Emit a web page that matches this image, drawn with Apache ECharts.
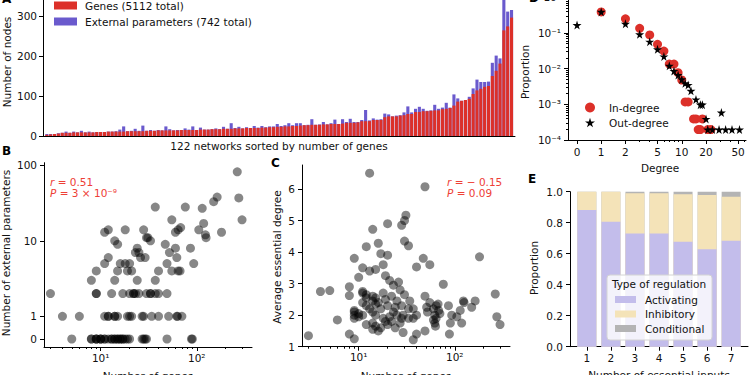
<!DOCTYPE html>
<html>
<head>
<meta charset="utf-8">
<title>Regulatory networks</title>
<script src="https://cdn.jsdelivr.net/npm/echarts@6.0.0/dist/echarts.min.js"></script>
<style>
  html, body { margin: 0; padding: 0; background: #fff; }
  #chart { width: 750px; height: 375px; }
</style>
</head>
<body>
<div id="chart"></div>
<script>
// A, B, C: one entry per network, sorted by number of genes
const genes = [3, 4, 5, 6, 8, 8, 8, 9, 9, 9, 9, 9, 9, 10, 10, 10, 11, 11, 11, 11, 11, 12, 12, 12, 12, 12,
  13, 13, 13, 14, 14, 14, 14, 14, 14, 15, 15, 15, 15, 15, 16, 16, 16, 17, 17, 17, 18, 18, 18, 19, 19, 19,
  20, 20, 20, 20, 21, 21, 22, 22, 23, 23, 24, 24, 25, 25, 26, 27, 27, 28, 28, 28, 29, 29, 30, 30, 30, 31,
  33, 33, 33, 34, 37, 37, 37, 40, 40, 40, 47, 49, 49, 49, 51, 52, 55, 55, 60, 60, 62, 62, 63, 64, 64, 67,
  68, 70, 76, 86, 88, 90, 93, 105, 114, 118, 123, 125, 150, 163, 181, 264, 274, 296];
const extParams = [2, 1, 0, 1, 0, 3, 0, 2, 0, 4, 0, 2, 0, 0, 0, 0, 0, 0, 1, 5, 13, 0, 1, 6, 1, 14,
  0, 2, 0, 1, 0, 10, 3, 0, 1, 0, 4, 1, 9, 0, 5, 0, 0, 0, 2, 0, 5, 0, 14, 1, 4, 0,
  2, 0, 5, 1, 4, 1, 2, 2, 7, 2, 3, 8, 2, 7, 6, 0, 1, 14, 0, 1, 6, 0, 2, 11, 0, 11,
  2, 10, 2, 1, 3, 28, 2, 4, 1, 2, 9, 5, 0, 2, 1, 7, 19, 4, 8, 13, 6, 1, 1, 14, 4, 4,
  15, 1, 28, 8, 0, 0, 5, 14, 27, 17, 12, 11, 33, 38, 13, 82, 37, 19];
const avgDegree = [1.35, 2.75, 2.78, 1.85, 2.9, 1.4, 2.62, 3.8, 1.25, 2.1, 2.0, 1.9, 2.15, 3.2, 2.05, 1.95,
  3.5, 2.75, 2.7, 2.4, 2.0, 4.17, 2.55, 2.3, 2.65, 1.7, 6.5, 3.4, 2.2, 4.72, 1.75, 2.45, 2.6, 1.55, 2.1,
  3.45, 2.35, 1.65, 2.55, 2.0, 4.28, 2.4, 1.5, 3.95, 2.2, 1.6, 3.6, 1.9, 2.7, 3.25, 1.8, 2.5,
  4.9, 3.9, 2.3, 1.7, 3.1, 1.95, 2.6, 1.8, 2.95, 2.1, 2.25, 1.6, 2.0, 2.45, 3.05, 2.8, 1.75, 4.85, 2.3, 1.9,
  2.0, 1.45, 5.0, 4.35, 2.65, 5.17, 4.2, 2.2, 1.9, 2.45, 1.22, 1.9, 2.2, 3.53, 1.4, 2.0, 3.8, 6.07, 2.6, 1.5,
  2.25, 2.1, 2.4, 3.6, 1.85, 2.2, 1.75, 2.0, 1.65, 1.9, 2.3, 2.35, 2.15, 2.05, 2.98, 2.3, 1.4, 1.75, 2.0,
  1.95, 2.15, 1.75, 2.45, 2.4, 2.25, 2.45, 3.85, 2.67, 1.95, 1.7];

// D: degree distributions
const inDegree = [1, 2, 3, 4, 5, 6, 7, 8, 9, 10, 11, 12, 14, 15, 16, 17, 18, 21, 23];
const inProportion = [0.39, 0.25, 0.135, 0.088, 0.048, 0.031, 0.0134, 0.0134, 0.0077, 0.0048, 0.00117, 0.00117,
  0.00039, 0.00039, 0.000196, 0.000196, 0.00039, 0.000196, 0.000196];
const outDegree = [0, 1, 2, 3, 4, 5, 6, 7, 8, 9, 10, 11, 12, 13, 15, 17, 18, 20, 21, 24, 29, 31, 35, 42, 52];
const outProportion = [0.167, 0.39, 0.18, 0.092, 0.057, 0.035, 0.022, 0.012, 0.0086, 0.0066, 0.005, 0.0039, 0.0035,
  0.0024, 0.00137, 0.00098, 0.00098, 0.00039, 0.000196, 0.000196, 0.000196, 0.00059, 0.000196, 0.000196, 0.000196];

// E: type of regulation by number of essential inputs
const essentialInputs = [1, 2, 3, 4, 5, 6, 7];
const activating = [0.882, 0.806, 0.731, 0.731, 0.677, 0.628, 0.684];
const inhibitory = [0.118, 0.194, 0.259, 0.259, 0.306, 0.351, 0.284];
const conditional = [0, 0, 0.01, 0.01, 0.017, 0.021, 0.032];

// tick values
const nodeTicks = [0, 100, 200, 300];
const extTicks = [0, 1, 10, 100];
const geneTicks = [10, 100];
const degreeTicks = [0, 1, 2, 5, 10, 20, 50];
const degreeMinor = [3, 4, 6, 7, 8, 9, 30, 40, 60];
const propTicks = [1e-4, 1e-3, 1e-2, 1e-1, 1];

const FONT = 'DejaVu Sans';
const RED = '#dc3029';
const BLUE = '#6a5acd';
const NOTE = '#ee4036';

// symmetric log (linear below 1)
const symlog = v => v < 1 ? v * 0.3 : 0.3 + Math.log10(v);
const sup = s => String(s).replace(/[-0-9]/g, c => ({ '-': '⁻', '0': '⁰', '1': '¹', '2': '²', '3': '³', '4': '⁴', '5': '⁵', '6': '⁶', '7': '⁷', '8': '⁸', '9': '⁹' })[c]);
const pow10 = v => '10' + sup(Math.round(v));
const findTick = (list, v) => {
  const t = list.find(d => Math.abs(symlog(d) - v) < 1e-6);
  return t === undefined ? '' : String(t);
};

const logMinor = (lo, hi, from, to) => {
  const out = [];
  for (let n = from; n <= to; n++) {
    for (let k = 2; k <= 9; k++) {
      const v = n + Math.log10(k);
      if (v > lo && v < hi) out.push(v);
    }
  }
  return out;
};

const line = { show: true, onZero: false, lineStyle: { color: '#000', width: 1 } };
const noLine = { show: false, onZero: false };
const tk = (vals, len) => ({ show: true, inside: false, length: len, customValues: vals, lineStyle: { color: '#000', width: 1 } });
const lbl = (vals, fmt, margin) => ({ show: true, customValues: vals, formatter: fmt, margin: margin, color: '#111', fontSize: 10.5, fontFamily: FONT });
const off = { show: false };

const geneRange = [0.41, 2.575];
const geneMinor = logMinor(geneRange[0], geneRange[1], 0, 2);

// stacked tops, drawn back to front
const inhibTop = activating.map((a, i) => a + inhibitory[i]);
const condTop = inhibTop.map((t, i) => t + conditional[i]);
const nodeTotal = genes.map((g, i) => g + extParams[i]);

const gB = { left: 44, top: 162.7, width: 208, height: 184.3, outerBoundsMode: 'none' };
const gC = { left: 302, top: 165, width: 208, height: 181.7, outerBoundsMode: 'none' };
const gD = { left: 568, top: -2.7, width: 178, height: 142.7, outerBoundsMode: 'none' };

const chart = echarts.init(document.getElementById('chart'), null, { renderer: 'svg' });

const option = {
  animation: false,
  backgroundColor: '#fff',
  textStyle: { fontFamily: FONT },
  grid: [
    { left: 43, top: 0, width: 472, height: 136, outerBoundsMode: 'none' },
    gB, gC, gD,
    { left: 570, top: 191.7, width: 178, height: 155, outerBoundsMode: 'none' },
    // copies that only carry minor ticks
    Object.assign({}, gB), Object.assign({}, gC), Object.assign({}, gD)
  ],
  xAxis: [
    { gridIndex: 0, type: 'value', min: -1, max: 121.9, axisLine: line, axisTick: off, axisLabel: off, splitLine: off },
    { gridIndex: 1, type: 'value', min: geneRange[0], max: geneRange[1], axisLine: line,
      axisTick: tk(geneTicks.map(Math.log10), 4), axisLabel: lbl(geneTicks.map(Math.log10), pow10, 5), splitLine: off },
    { gridIndex: 5, type: 'value', position: 'bottom', min: geneRange[0], max: geneRange[1], axisLine: noLine,
      axisTick: tk(geneMinor, 2), axisLabel: off, splitLine: off },
    { gridIndex: 2, type: 'value', min: geneRange[0], max: geneRange[1], axisLine: line,
      axisTick: tk(geneTicks.map(Math.log10), 4), axisLabel: lbl(geneTicks.map(Math.log10), pow10, 5), splitLine: off },
    { gridIndex: 6, type: 'value', position: 'bottom', min: geneRange[0], max: geneRange[1], axisLine: noLine,
      axisTick: tk(geneMinor, 2), axisLabel: off, splitLine: off },
    { gridIndex: 3, type: 'value', min: -0.112, max: 2.097, axisLine: line,
      axisTick: tk(degreeTicks.map(symlog), 4), axisLabel: lbl(degreeTicks.map(symlog), v => findTick(degreeTicks, v), 6), splitLine: off },
    { gridIndex: 7, type: 'value', position: 'bottom', min: -0.112, max: 2.097, axisLine: noLine,
      axisTick: tk(degreeMinor.map(symlog), 2), axisLabel: off, splitLine: off },
    { gridIndex: 4, type: 'value', min: 0.3, max: 7.7, axisLine: line,
      axisTick: tk(essentialInputs, 4), axisLabel: lbl(essentialInputs, v => String(v), 6), splitLine: off }
  ],
  yAxis: [
    { gridIndex: 0, type: 'value', min: 0, max: 340, axisLine: line,
      axisTick: tk(nodeTicks, 4), axisLabel: lbl(nodeTicks, v => String(v), 6), splitLine: off },
    { gridIndex: 1, type: 'value', min: -0.106, max: 2.335, axisLine: line,
      axisTick: tk(extTicks.map(symlog), 4), axisLabel: lbl(extTicks.map(symlog), v => findTick(extTicks, v), 7), splitLine: off },
    { gridIndex: 2, type: 'value', min: 1, max: 6.76, interval: 1, axisLine: line,
      axisTick: { show: true, length: 4, lineStyle: { color: '#000' } },
      axisLabel: { margin: 7, color: '#111', fontSize: 10.5, fontFamily: FONT, showMaxLabel: false, formatter: v => (v % 1 === 0 ? String(v) : '') }, splitLine: off },
    { gridIndex: 3, type: 'value', min: -4, max: 0, axisLine: line,
      axisTick: tk(propTicks.map(Math.log10), 4), axisLabel: lbl(propTicks.map(Math.log10), pow10, 7), splitLine: off },
    { gridIndex: 7, type: 'value', position: 'left', min: -4, max: 0, axisLine: noLine,
      axisTick: tk(logMinor(-4, 0, -4, -1), 2), axisLabel: off, splitLine: off },
    { gridIndex: 4, type: 'value', min: 0, max: 1, interval: 0.2, axisLine: line,
      axisTick: { show: true, length: 4, lineStyle: { color: '#000' } },
      axisLabel: { margin: 7, color: '#111', fontSize: 10.5, fontFamily: FONT, formatter: v => v.toFixed(1) }, splitLine: off },
    { gridIndex: 5, type: 'value', min: 0, max: 1, show: false },
    { gridIndex: 6, type: 'value', min: 0, max: 1, show: false }
  ],
  legend: [
    { data: ['Genes (5112 total)', 'External parameters (742 total)'], orient: 'vertical', left: 54, top: 0, padding: 0,
      itemWidth: 23, itemHeight: 8, itemGap: 5, icon: 'rect', selectedMode: false,
      textStyle: { fontSize: 10.5, fontFamily: FONT, color: '#111', padding: [0, 0, 0, 3] } },
    { data: ['In-degree', 'Out-degree'], orient: 'vertical', left: 585, top: 102, padding: 0,
      itemWidth: 10, itemHeight: 10, itemGap: 4, selectedMode: false,
      textStyle: { fontSize: 10.5, fontFamily: FONT, color: '#111', padding: [0, 0, 0, 9] } },
    { data: ['Activating', 'Inhibitory', 'Conditional'], orient: 'vertical', left: 615, top: 294, padding: 0,
      itemWidth: 21, itemHeight: 7, itemGap: 3.5, icon: 'rect', selectedMode: false, z: 120,
      textStyle: { fontSize: 10.5, fontFamily: FONT, color: '#111', padding: [0, 0, 0, 4] } }
  ],
  series: [
    // A: total height first, genes drawn over it
    { name: 'External parameters (742 total)', type: 'bar', xAxisIndex: 0, yAxisIndex: 0, barWidth: 3.1, barGap: '-100%',
      itemStyle: { color: BLUE }, data: nodeTotal.map((t, i) => [i, t]) },
    { name: 'Genes (5112 total)', type: 'bar', xAxisIndex: 0, yAxisIndex: 0, barWidth: 3.1, barGap: '-100%',
      itemStyle: { color: RED }, data: genes.map((g, i) => [i, g]) },
    { name: 'ext', type: 'scatter', xAxisIndex: 1, yAxisIndex: 1, symbolSize: 9, clip: false,
      itemStyle: { color: '#000', opacity: 0.47 },
      data: genes.map((g, i) => [Math.log10(g), symlog(extParams[i])]) },
    { name: 'deg', type: 'scatter', xAxisIndex: 3, yAxisIndex: 2, symbolSize: 9, clip: false,
      itemStyle: { color: '#000', opacity: 0.47 },
      data: genes.map((g, i) => [Math.log10(g), avgDegree[i]]) },
    { name: 'In-degree', type: 'scatter', xAxisIndex: 5, yAxisIndex: 3, symbol: 'circle', symbolSize: 9, clip: false,
      itemStyle: { color: RED, opacity: 1 },
      data: inDegree.map((d, i) => [symlog(d), Math.log10(inProportion[i])]) },
    { name: 'Out-degree', type: 'scatter', xAxisIndex: 5, yAxisIndex: 3, clip: false, symbolSize: 9,
      symbol: 'path://M50,0 L61,35 L98,35 L68,57 L79,91 L50,70 L21,91 L32,57 L2,35 L39,35 Z',
      itemStyle: { color: '#000', opacity: 1 },
      data: outDegree.map((d, i) => [symlog(d), Math.log10(outProportion[i])]) },
    // E: cumulative tops, back to front
    { name: 'Conditional', type: 'bar', xAxisIndex: 7, yAxisIndex: 5, barWidth: 19, barGap: '-100%',
      itemStyle: { color: '#b4b4b4' }, data: essentialInputs.map((x, i) => [x, condTop[i]]) },
    { name: 'Inhibitory', type: 'bar', xAxisIndex: 7, yAxisIndex: 5, barWidth: 19, barGap: '-100%',
      itemStyle: { color: '#f4e3b8' }, data: essentialInputs.map((x, i) => [x, inhibTop[i]]) },
    { name: 'Activating', type: 'bar', xAxisIndex: 7, yAxisIndex: 5, barWidth: 19, barGap: '-100%',
      itemStyle: { color: '#c3bdeb' }, data: essentialInputs.map((x, i) => [x, activating[i]]) }
  ],
  graphic: [
    // panel letters
    { type: 'text', x: 2, y: -1, style: { text: 'A', fontSize: 12, fontWeight: 'bold', fontFamily: FONT, fill: '#000', verticalAlign: 'middle' } },
    { type: 'text', x: 2, y: 151, style: { text: 'B', fontSize: 12, fontWeight: 'bold', fontFamily: FONT, fill: '#000', verticalAlign: 'middle' } },
    { type: 'text', x: 271, y: 163, style: { text: 'C', fontSize: 12, fontWeight: 'bold', fontFamily: FONT, fill: '#000', verticalAlign: 'middle' } },
    { type: 'text', x: 529, y: -2, style: { text: 'D', fontSize: 12, fontWeight: 'bold', fontFamily: FONT, fill: '#000', verticalAlign: 'middle' } },
    { type: 'text', x: 528, y: 179, style: { text: 'E', fontSize: 12, fontWeight: 'bold', fontFamily: FONT, fill: '#000', verticalAlign: 'middle' } },
    // axis names
    { type: 'text', x: 7, y: 62, rotation: Math.PI / 2, style: { text: 'Number of nodes', fontSize: 10.5, fontFamily: FONT, fill: '#111', align: 'center', verticalAlign: 'middle' } },
    { type: 'text', x: 279, y: 146, style: { text: '122 networks sorted by number of genes', fontSize: 10.5, fontFamily: FONT, fill: '#111', align: 'center', verticalAlign: 'middle' } },
    { type: 'text', x: 6, y: 253, rotation: Math.PI / 2, style: { text: 'Number of external parameters', fontSize: 10.5, fontFamily: FONT, fill: '#111', align: 'center', verticalAlign: 'middle' } },
    { type: 'text', x: 148, y: 370, style: { text: 'Number of genes', fontSize: 10.5, fontFamily: FONT, fill: '#111', align: 'center', verticalAlign: 'top' } },
    { type: 'text', x: 277, y: 257, rotation: Math.PI / 2, style: { text: 'Average essential degree', fontSize: 10.5, fontFamily: FONT, fill: '#111', align: 'center', verticalAlign: 'middle' } },
    { type: 'text', x: 406, y: 370, style: { text: 'Number of genes', fontSize: 10.5, fontFamily: FONT, fill: '#111', align: 'center', verticalAlign: 'top' } },
    { type: 'text', x: 525, y: 72, rotation: Math.PI / 2, style: { text: 'Proportion', fontSize: 10.5, fontFamily: FONT, fill: '#111', align: 'center', verticalAlign: 'middle' } },
    { type: 'text', x: 660, y: 168, style: { text: 'Degree', fontSize: 10.5, fontFamily: FONT, fill: '#111', align: 'center', verticalAlign: 'middle' } },
    { type: 'text', x: 534, y: 268, rotation: Math.PI / 2, style: { text: 'Proportion', fontSize: 10.5, fontFamily: FONT, fill: '#111', align: 'center', verticalAlign: 'middle' } },
    { type: 'text', x: 659, y: 369, style: { text: 'Number of essential inputs', fontSize: 10.5, fontFamily: FONT, fill: '#111', align: 'center', verticalAlign: 'top' } },
    // correlation notes
    { type: 'text', x: 50, y: 182, style: { text: '{i|r} = 0.51', fontSize: 10.5, fontFamily: FONT, fill: NOTE, verticalAlign: 'middle',
      rich: { i: { fontStyle: 'italic', fontSize: 10.5, fontFamily: FONT, fill: NOTE } } } },
    { type: 'text', x: 50, y: 193, style: { text: '{i|P} = 3 × 10⁻⁹', fontSize: 10.5, fontFamily: FONT, fill: NOTE, verticalAlign: 'middle',
      rich: { i: { fontStyle: 'italic', fontSize: 10.5, fontFamily: FONT, fill: NOTE } } } },
    { type: 'text', x: 447, y: 182, style: { text: '{i|r} = − 0.15', fontSize: 10.5, fontFamily: FONT, fill: NOTE, verticalAlign: 'middle',
      rich: { i: { fontStyle: 'italic', fontSize: 10.5, fontFamily: FONT, fill: NOTE } } } },
    { type: 'text', x: 447, y: 193, style: { text: '{i|P} = 0.09', fontSize: 10.5, fontFamily: FONT, fill: NOTE, verticalAlign: 'middle',
      rich: { i: { fontStyle: 'italic', fontSize: 10.5, fontFamily: FONT, fill: NOTE } } } },
    // E legend frame
    { type: 'rect', z: 100, shape: { x: 607, y: 275, width: 105, height: 65, r: 3 },
      style: { fill: 'rgba(255,255,255,0.8)', stroke: '#d4d4d4', lineWidth: 1 } },
    { type: 'text', z: 101, x: 659, y: 284, style: { text: 'Type of regulation', fontSize: 10.5, fontFamily: FONT, fill: '#111', align: 'center', verticalAlign: 'middle' } }
  ]
};

chart.setOption(option);
</script>
</body>
</html>
